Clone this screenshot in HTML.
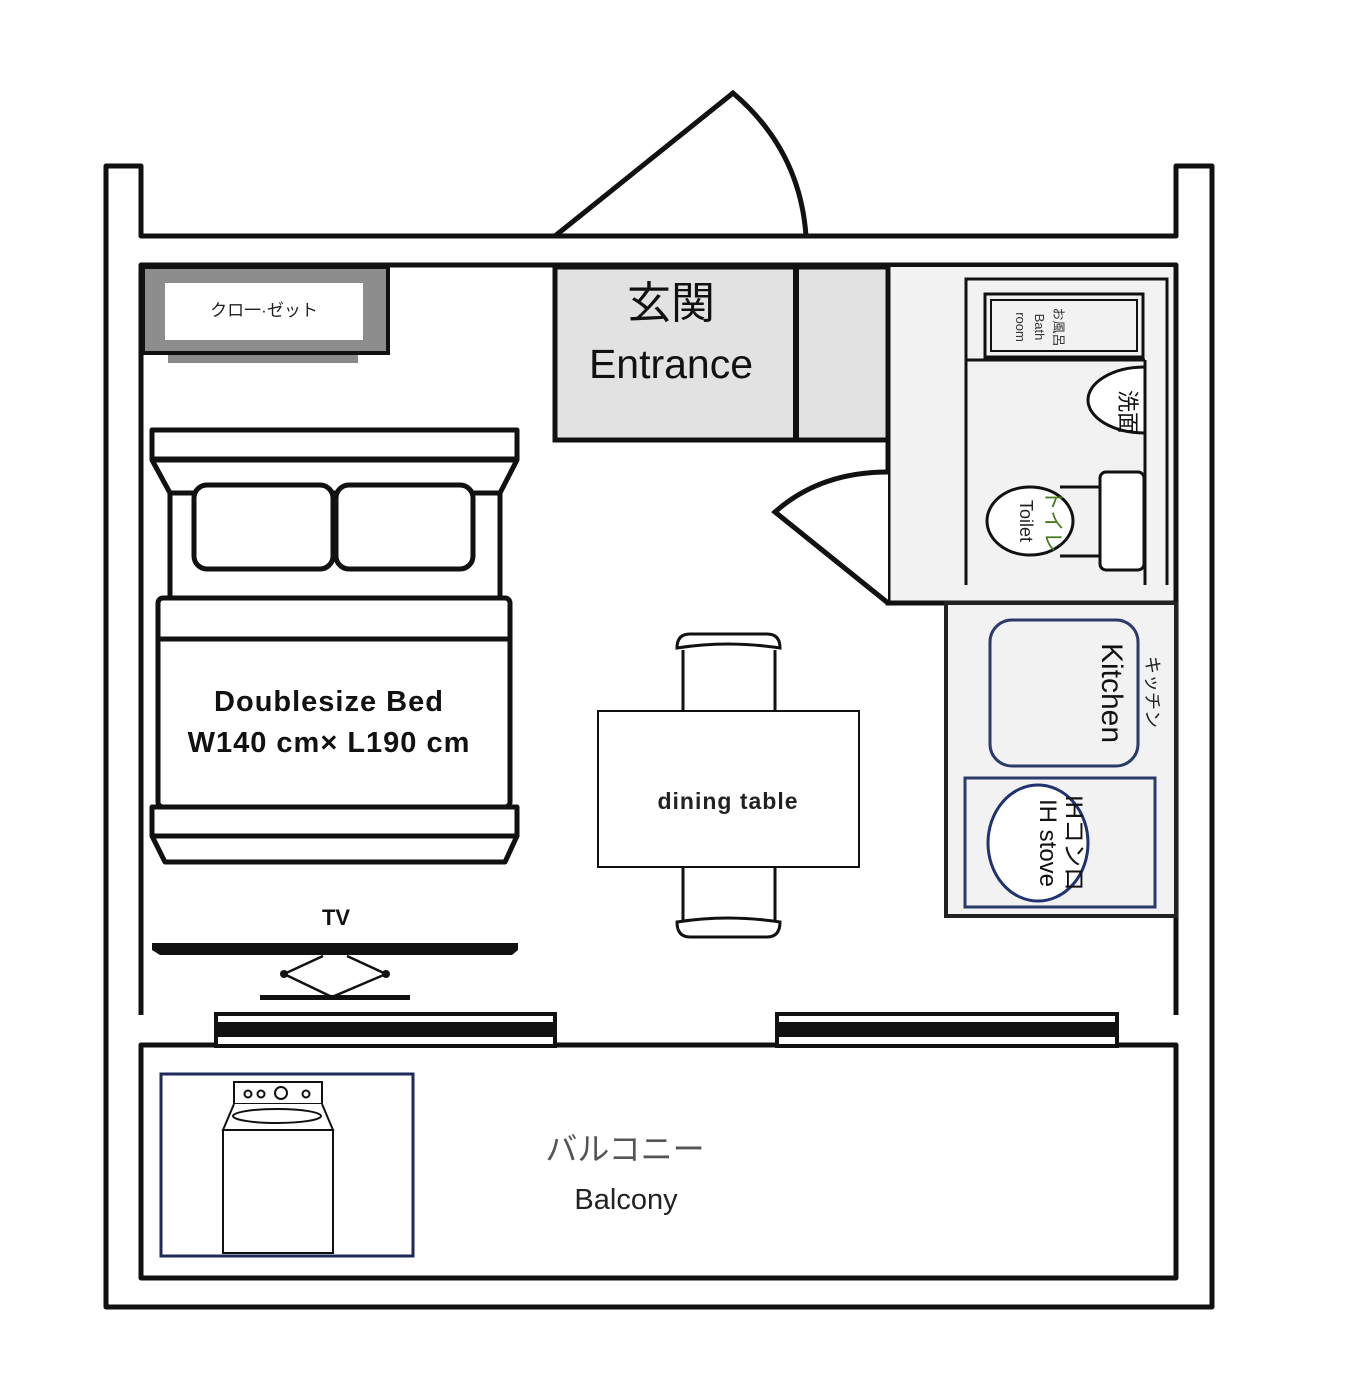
<!DOCTYPE html>
<html><head><meta charset="utf-8"><style>html,body{margin:0;padding:0;background:#fff}svg{display:block}</style></head>
<body>
<svg width="1366" height="1400" viewBox="0 0 1366 1400" xmlns="http://www.w3.org/2000/svg" font-family="'Liberation Sans','Noto Sans CJK JP',sans-serif">
<rect width="1366" height="1400" fill="#fff"/>
<g fill="none" stroke="#111" stroke-width="5" stroke-linejoin="round">
<path d="M141 236 V166 H106 V1307 H1212 V166 H1176 V236 Z" fill="#fff"/>
<path d="M141 1015 V265 H1176 V1015"/>
<path d="M141 1045 H1176 V1278 H141 Z"/>
</g>
<g stroke="#111" stroke-width="4" fill="#fff">
<rect x="216" y="1014" width="339" height="32"/>
<rect x="777" y="1014" width="340" height="32"/>
</g>
<rect x="218" y="1022" width="335" height="15" fill="#111"/>
<rect x="779" y="1022" width="336" height="15" fill="#111"/>
<path d="M555 236 L733 93 Q800 150 806 236" fill="#fff" stroke="#111" stroke-width="5"/>
<line x1="141" y1="236" x2="1176" y2="236" stroke="#111" stroke-width="5"/>
<rect x="168" y="352" width="190" height="11" fill="#8a8a8a"/>
<rect x="143" y="267" width="245" height="86" fill="#8d8d8d" stroke="#111" stroke-width="4"/>
<rect x="165" y="283" width="198" height="57" fill="#fff"/>
<text x="264" y="316" font-size="17" text-anchor="middle" fill="#222">クロ一·ゼット</text>
<rect x="555" y="267" width="333" height="173" fill="#e2e2e2" stroke="#111" stroke-width="5"/>
<line x1="796" y1="267" x2="796" y2="440" stroke="#111" stroke-width="6"/>
<text x="671" y="318" font-size="44" text-anchor="middle" fill="#111">玄関</text>
<text x="671" y="378" font-size="41" text-anchor="middle" fill="#111">Entrance</text>
<rect x="890" y="267" width="286" height="336" fill="#f2f2f2"/>
<path d="M888 265 V603 H1176" fill="none" stroke="#111" stroke-width="5"/>
<path d="M888 472 Q820 472 775 512 L888 603" fill="#fff" stroke="#111" stroke-width="5"/>
<g fill="none" stroke="#111" stroke-width="3">
<path d="M966 585 V279 H1167 V585"/>
<line x1="966" y1="360" x2="1145" y2="360"/>
<rect x="985" y="294" width="158" height="63"/>
<rect x="991" y="300" width="146" height="51" stroke-width="2"/>
<path d="M1145 367 A57 33 0 0 0 1145 433" fill="#fff"/>
<rect x="1100" y="472" width="44" height="98" rx="6" fill="#fff"/>
<path d="M1100 487 H1060 M1100 556 H1060"/>
<ellipse cx="1030" cy="521" rx="43" ry="34" fill="#fff"/>
<line x1="1145" y1="360" x2="1145" y2="585"/>
</g>
<line x1="1176" y1="265" x2="1176" y2="1015" stroke="#111" stroke-width="5"/>
<g font-size="13" fill="#333">
<text transform="translate(1054,327) rotate(90)" text-anchor="middle">お風呂</text>
<text transform="translate(1035,327) rotate(90)" text-anchor="middle">Bath</text>
<text transform="translate(1016,327) rotate(90)" text-anchor="middle">room</text>
</g>
<text transform="translate(1120,412) rotate(90)" text-anchor="middle" font-size="22" fill="#111">洗面</text>
<text transform="translate(1046,521) rotate(90)" text-anchor="middle" font-size="21" fill="#4a7a20">トイレ</text>
<text transform="translate(1020,521) rotate(90)" text-anchor="middle" font-size="18" fill="#222">Toilet</text>
<rect x="946" y="603" width="230" height="313" fill="#f2f2f2" stroke="#222" stroke-width="4"/>
<rect x="990" y="620" width="148" height="146" rx="22" fill="#f2f2f2" stroke="#2a3a6a" stroke-width="3"/>
<rect x="965" y="778" width="190" height="129" fill="#f2f2f2" stroke="#2a3a6a" stroke-width="3"/>
<ellipse cx="1038" cy="843" rx="50" ry="58" fill="#fff" stroke="#1e3370" stroke-width="3"/>
<text transform="translate(1102,693) rotate(90)" text-anchor="middle" font-size="30" fill="#111">Kitchen</text>
<text transform="translate(1146,692) rotate(90)" text-anchor="middle" font-size="18" fill="#222">キッチン</text>
<text transform="translate(1066,843) rotate(90)" text-anchor="middle" font-size="24" fill="#111">IHコンロ</text>
<text transform="translate(1040,843) rotate(90)" text-anchor="middle" font-size="24" fill="#111">IH stove</text>
<g fill="#fff" stroke="#111" stroke-width="5" stroke-linejoin="round">
<path d="M152 460 L170 493 H500 L517 460 Z"/>
<rect x="152" y="430" width="365" height="29"/>
<path d="M170 493 V597 M500 493 V597"/>
<rect x="158" y="598" width="352" height="209" rx="5"/>
<line x1="158" y1="639" x2="510" y2="639"/>
<rect x="194" y="485" width="139" height="84" rx="13"/>
<rect x="336" y="485" width="137" height="84" rx="13"/>
<path d="M152 836 L165 862 H505 L517 836 Z"/>
<rect x="152" y="807" width="365" height="29"/>
</g>
<text x="329" y="711" font-size="29" font-weight="bold" text-anchor="middle" fill="#111" letter-spacing="1">Doublesize Bed</text>
<text x="329" y="752" font-size="29" font-weight="bold" text-anchor="middle" fill="#111" letter-spacing="1">W140 cm× L190 cm</text>
<g fill="#fff" stroke="#111" stroke-width="3">
<path d="M683 711 V650 M775 711 V650"/>
<path d="M677 648 Q677 634 690 634 H767 Q780 634 780 648 Q728 640 677 648 Z"/>
<path d="M683 867 V922 M775 867 V922"/>
<path d="M677 922 Q728 914 780 922 Q780 937 767 937 H690 Q677 937 677 922 Z"/>
<rect x="598" y="711" width="261" height="156" stroke-width="2"/>
</g>
<text x="728" y="809" font-size="23" font-weight="bold" text-anchor="middle" fill="#222" letter-spacing="1">dining table</text>
<text x="336" y="925" font-size="22" font-weight="bold" text-anchor="middle" fill="#111">TV</text>
<path d="M152 943 H518 V950 L512 955 H160 L152 950 Z" fill="#111"/>
<path d="M323 956 L284 974 L332 997 L386 974 L347 956" fill="none" stroke="#111" stroke-width="2.5"/>
<circle cx="284" cy="974" r="4" fill="#111"/><circle cx="386" cy="974" r="4" fill="#111"/>
<rect x="260" y="995" width="150" height="5" fill="#111"/>
<rect x="161" y="1074" width="252" height="182" fill="none" stroke="#1e2a5a" stroke-width="3"/>
<g fill="#fff" stroke="#111" stroke-width="2">
<rect x="234" y="1082" width="88" height="22"/>
<path d="M234 1104 L223 1130 H333 L322 1104"/>
<ellipse cx="277" cy="1116" rx="44" ry="7"/>
<rect x="223" y="1130" width="110" height="123"/>
<circle cx="248" cy="1094" r="3.5"/><circle cx="261" cy="1094" r="3.5"/><circle cx="281" cy="1093" r="6"/><circle cx="306" cy="1094" r="3.5"/>
</g>
<text x="625" y="1160" font-size="32" text-anchor="middle" fill="#555">バルコニー</text>
<text x="626" y="1209" font-size="29" text-anchor="middle" fill="#222">Balcony</text>
</svg>
</body></html>
